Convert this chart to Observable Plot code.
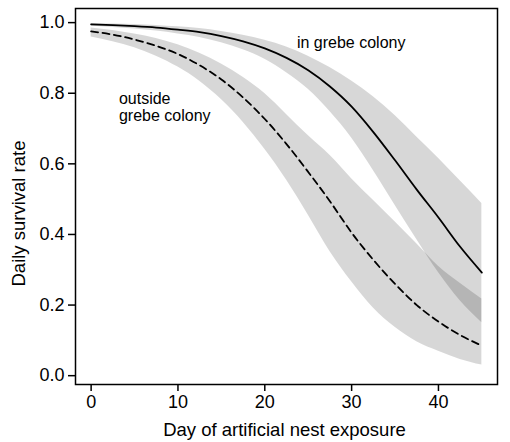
<!DOCTYPE html>
<html><head><meta charset="utf-8">
<script src="https://cdn.jsdelivr.net/npm/d3@7"></script>
<script src="https://cdn.jsdelivr.net/npm/@observablehq/plot@0.6"></script>
<style>body{margin:0;background:#fff}</style>
</head><body><div id="chart"></div>
<script>
const days = [0, 2.5, 5, 7.5, 10, 12.5, 15, 17.5, 20, 22.5, 25, 27.5, 30, 32.5, 35, 37.5, 40, 42.5, 45];
// in grebe colony (solid line) and its confidence band
const inFit = [0.995, 0.993, 0.990, 0.986, 0.980, 0.973, 0.962, 0.947, 0.927, 0.900, 0.865, 0.819, 0.762, 0.690, 0.610, 0.527, 0.448, 0.365, 0.292];
const inUp  = [0.9976, 0.9964, 0.9946, 0.992, 0.988, 0.983, 0.975, 0.964, 0.950, 0.931, 0.905, 0.873, 0.835, 0.790, 0.737, 0.676, 0.616, 0.552, 0.488];
const inLo  = [0.9895, 0.986, 0.982, 0.976, 0.968, 0.958, 0.943, 0.923, 0.896, 0.858, 0.811, 0.748, 0.673, 0.581, 0.483, 0.386, 0.292, 0.212, 0.150];
// outside grebe colony (dashed line) and its confidence band
const outFit = [0.975, 0.966, 0.952, 0.934, 0.911, 0.879, 0.839, 0.788, 0.727, 0.656, 0.577, 0.494, 0.405, 0.328, 0.260, 0.200, 0.153, 0.115, 0.085];
const outUp  = [0.985, 0.978, 0.968, 0.955, 0.937, 0.913, 0.883, 0.845, 0.799, 0.740, 0.680, 0.624, 0.558, 0.497, 0.436, 0.374, 0.310, 0.262, 0.217];
const outLo  = [0.959, 0.946, 0.929, 0.905, 0.874, 0.834, 0.782, 0.718, 0.641, 0.554, 0.455, 0.352, 0.266, 0.192, 0.137, 0.096, 0.069, 0.046, 0.030];

const xTicks = [0, 10, 20, 30, 40];
const yTicks = [0, 0.2, 0.4, 0.6, 0.8, 1.0];
const xTitle = "Day of artificial nest exposure";
const yTitle = "Daily survival rate";
const annotLabels = ["in grebe colony", "outside\ngrebe colony"];
const annotX = [23.7, 3.2];
const annotY = [0.927, 0.72];

const rows = days.map((d, i) => ({day: d, inFit: inFit[i], inUp: inUp[i], inLo: inLo[i], outFit: outFit[i], outUp: outUp[i], outLo: outLo[i]}));
const annots = annotLabels.map((t, i) => ({label: t, x: annotX[i], y: annotY[i]}));

const chart = Plot.plot({
  width: 510,
  height: 442,
  marginLeft: 75,
  marginRight: 13,
  marginTop: 8,
  marginBottom: 58,
  style: {fontFamily: "'Liberation Sans', Arial, sans-serif", fontSize: "18px", background: "#fff", color: "#000"},
  x: {domain: [-1.8, 46.8]},
  y: {domain: [-0.025, 1.04]},
  marks: [
    Plot.areaY(rows, {x: "day", y1: "outLo", y2: "outUp", fill: "#000", fillOpacity: 0.155, curve: "monotone-x"}),
    Plot.areaY(rows, {x: "day", y1: "inLo", y2: "inUp", fill: "#000", fillOpacity: 0.155, curve: "monotone-x"}),
    Plot.line(rows, {x: "day", y: "outFit", stroke: "#000", strokeWidth: 1.8, strokeDasharray: "7,4.5", curve: "monotone-x"}),
    Plot.line(rows, {x: "day", y: "inFit", stroke: "#000", strokeWidth: 1.8, curve: "monotone-x"}),
    Plot.frame({stroke: "#000", strokeWidth: 1.5}),
    Plot.axisX({ticks: xTicks, tickSize: 7, tickPadding: 4, label: null, strokeWidth: 1.5, fontSize: 18}),
    Plot.axisY({ticks: yTicks, tickSize: 7, tickPadding: 4, tickFormat: ".1f", label: null, strokeWidth: 1.5, fontSize: 18}),
    Plot.text([xTitle], {text: d => d, frameAnchor: "bottom", textAnchor: "middle", dx: -2, dy: 51, lineAnchor: "bottom", fontSize: 18.5}),
    Plot.text([yTitle], {text: d => d, frameAnchor: "left", textAnchor: "middle", lineAnchor: "middle", dx: -56, dy: 17, rotate: -90, fontSize: 18.5}),
    Plot.text(annots, {x: "x", y: "y", text: "label", textAnchor: "start", lineAnchor: "bottom", lineHeight: 1.1, fontSize: 16})
  ]
});
document.getElementById("chart").appendChild(chart);
</script>
</body></html>
